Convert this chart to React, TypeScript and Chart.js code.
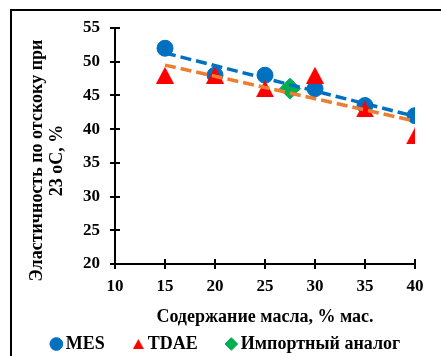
import React, { useEffect, useRef } from "react";
import { Chart, registerables } from "chart.js";

Chart.register(...registerables);

// ---- data ----
const oilContent = [15, 20, 25, 30, 35, 40];
const mesValues = [52, 48, 48, 46, 43.5, 42];
const tdaeValues = [48, 48, 46, 48, 43, 39];
const importX = [27.5];
const importValues = [46];
const trendX = [15, 40];
const mesTrend = [51.3, 41.9];
const tdaeTrend = [49.5, 41.2];
const xTicks = [10, 15, 20, 25, 30, 35, 40];
const yTicks = [20, 25, 30, 35, 40, 45, 50, 55];
const seriesNames = ["MES", "TDAE", "Импортный аналог"];
const xTitle = "Содержание масла, % мас.";
const yTitleLines = ["Эластичность по отскоку при", "23 оС, %"];

const FONT = "'Liberation Serif', 'Times New Roman', serif";
const BLUE = "#0070C0";
const RED = "#FF0000";
const GREEN = "#00B050";
const ORANGE = "#ED7D31";

function triangleCanvas(w: number, h: number, color: string) {
  const c = document.createElement("canvas");
  c.width = w;
  c.height = h;
  const ctx = c.getContext("2d")!;
  ctx.fillStyle = color;
  ctx.beginPath();
  ctx.moveTo(w / 2, 0);
  ctx.lineTo(w, h);
  ctx.lineTo(0, h);
  ctx.closePath();
  ctx.fill();
  return c;
}

const decorPlugin = {
  id: "decor",
  afterDraw(chart: any) {
    const { ctx, chartArea, scales } = chart;
    ctx.save();
    ctx.strokeStyle = "#000";
    ctx.lineWidth = 2;
    // inner halves of the cross tick marks
    scales.x.ticks.forEach((_t: any, i: number) => {
      const px = Math.round(scales.x.getPixelForTick(i));
      ctx.beginPath();
      ctx.moveTo(px, chartArea.bottom);
      ctx.lineTo(px, chartArea.bottom - 5);
      ctx.stroke();
    });
    scales.y.ticks.forEach((_t: any, i: number) => {
      const py = Math.round(scales.y.getPixelForTick(i));
      ctx.beginPath();
      ctx.moveTo(chartArea.left, py);
      ctx.lineTo(chartArea.left + 5, py);
      ctx.stroke();
    });
    // y axis title (two centred lines)
    ctx.fillStyle = "#000";
    ctx.font = `bold 18px ${FONT}`;
    ctx.textAlign = "center";
    ctx.textBaseline = "middle";
    const cx = [37, 57];
    yTitleLines.forEach((line, i) => {
      ctx.save();
      ctx.translate(cx[i], 160.5);
      ctx.rotate(-Math.PI / 2);
      ctx.fillText(line, 0, 0);
      ctx.restore();
    });
    // outer frame
    ctx.fillStyle = "#000";
    ctx.fillRect(10, 9, 441, 2);
    ctx.fillRect(10, 9, 2, 356);
    ctx.restore();
  },
};

export default function App() {
  const ref = useRef<HTMLCanvasElement>(null);
  useEffect(() => {
    const bigTri = triangleCanvas(18, 17, RED);
    const smallTri = triangleCanvas(11, 10, RED);
    const tickFont = { size: 17, weight: "bold" as const, family: FONT };
    const chart = new Chart(ref.current!, {
      type: "scatter",
      data: {
        datasets: [
          {
            label: seriesNames[0],
            data: oilContent.map((x, i) => ({ x, y: mesValues[i] })),
            pointStyle: "circle",
            pointRadius: 8,
            backgroundColor: BLUE,
            borderColor: BLUE,
            borderWidth: 1,
            order: 4,
          },
          {
            label: seriesNames[1],
            data: oilContent.map((x, i) => ({ x, y: tdaeValues[i] })),
            pointStyle: bigTri as any,
            backgroundColor: RED,
            borderColor: RED,
            borderWidth: 0,
            order: 3,
          },
          {
            label: seriesNames[2],
            data: importX.map((x, i) => ({ x, y: importValues[i] })),
            pointStyle: "rectRot",
            pointRadius: 10.5,
            backgroundColor: GREEN,
            borderColor: GREEN,
            borderWidth: 1,
            order: 2,
          },
          {
            label: "MES trend",
            data: trendX.map((x, i) => ({ x, y: mesTrend[i] })),
            showLine: true,
            pointRadius: 0,
            borderColor: BLUE,
            backgroundColor: BLUE,
            borderWidth: 3.5,
            borderDash: [11, 5],
            order: 0,
          },
          {
            label: "TDAE trend",
            data: trendX.map((x, i) => ({ x, y: tdaeTrend[i] })),
            showLine: true,
            pointRadius: 0,
            borderColor: ORANGE,
            backgroundColor: ORANGE,
            borderWidth: 3.5,
            borderDash: [11, 5],
            order: 1,
          },
        ],
      },
      options: {
        responsive: false,
        animation: false,
        events: [],
        devicePixelRatio: 1,
        layout: { padding: { top: 28, left: 15, right: 0, bottom: -7 } },
        scales: {
          x: {
            type: "linear",
            min: 10,
            max: 40,
            afterBuildTicks: (s: any) => {
              s.ticks = xTicks.map((v) => ({ value: v }));
            },
            ticks: { font: tickFont, color: "#000", padding: 7, maxRotation: 0, autoSkip: false },
            grid: { display: true, drawOnChartArea: false, drawTicks: true, tickLength: 5, color: "#000", lineWidth: 2 },
            border: { display: true, color: "#000", width: 2 },
            title: {
              display: true,
              text: xTitle,
              color: "#000",
              font: { size: 18, weight: "bold", family: FONT },
              padding: { top: 0, bottom: -26.2 },
            },
            afterFit: (s: any) => {
              s.height = 38;
            },
          },
          y: {
            type: "linear",
            min: 20,
            max: 55,
            afterBuildTicks: (s: any) => {
              s.ticks = yTicks.map((v) => ({ value: v }));
            },
            ticks: { font: tickFont, color: "#000", padding: 10, autoSkip: false },
            grid: { display: true, drawOnChartArea: false, drawTicks: true, tickLength: 5, color: "#000", lineWidth: 2 },
            border: { display: true, color: "#000", width: 2 },
            afterFit: (s: any) => {
              s.width = 100;
            },
          },
          y2: {
            type: "linear",
            position: "right",
            display: true,
            ticks: { display: false },
            grid: { display: false },
            border: { display: false },
            afterFit: (s: any) => {
              s.width = 26;
            },
          },
        },
        plugins: {
          tooltip: { enabled: false },
          legend: {
            position: "bottom",
            labels: {
              usePointStyle: true,
              boxWidth: 1,
              boxHeight: 9,
              padding: 33,
              color: "#000",
              font: { size: 18, weight: "bold", family: FONT },
              filter: (item: any) => item.datasetIndex < 3,
              sort: (a: any, b: any) => a.datasetIndex - b.datasetIndex,
              generateLabels: (c: any) => {
                const items = (Chart.defaults.plugins.legend.labels as any).generateLabels(c);
                return items.map((it: any) => (it.datasetIndex === 1 ? { ...it, pointStyle: smallTri } : it));
              },
            },
          },
        },
      },
      plugins: [decorPlugin],
    });
    return () => chart.destroy();
  }, []);
  return (
    <div style={{ position: "fixed", left: 0, top: 0, width: 441, height: 356, background: "#fff" }}>
      <canvas ref={ref} width={441} height={356} style={{ display: "block", width: 441, height: 356 }} />
    </div>
  );
}
